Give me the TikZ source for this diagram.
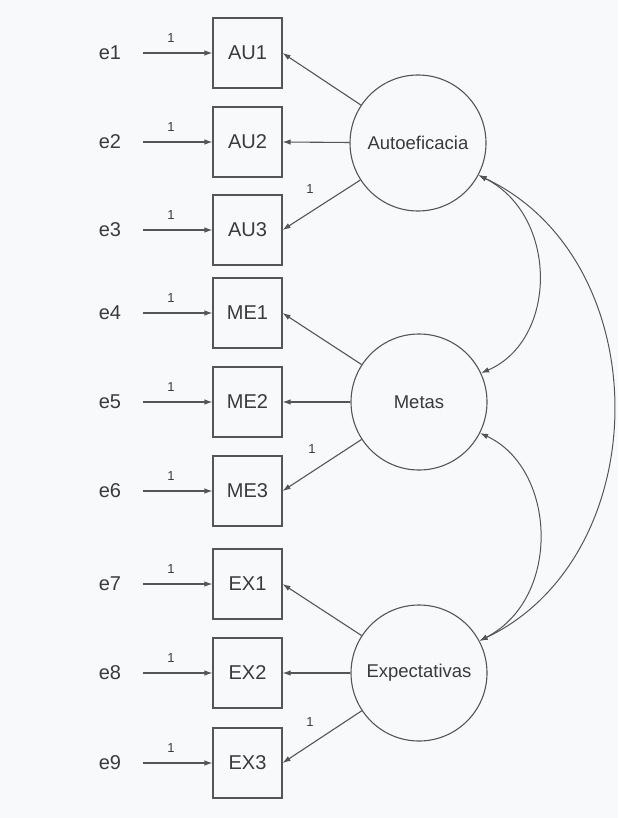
\documentclass[tikz,border=0pt]{standalone}
\usepackage{fontspec}
\setmainfont{Liberation Sans}
\usetikzlibrary{arrows.meta,calc}
\definecolor{ln}{HTML}{555555}
\definecolor{tx}{HTML}{3A3A3A}
\definecolor{bg}{HTML}{F8F9FB}
\begin{document}
\begin{tikzpicture}[x=1pt,y=-1pt,
 obs/.style={draw=ln, line width=1.1pt, minimum width=69pt, minimum height=70pt, inner sep=0pt, font=\fontsize{20}{20}\selectfont, text=tx},
 lat/.style={draw=ln, line width=1.1pt, circle, minimum size=136pt, inner sep=0pt, font=\fontsize{18.5}{18.5}\selectfont, text=tx},
 err/.style={minimum width=66pt, inner sep=0pt, font=\fontsize{20}{20}\selectfont, text=tx},
 one/.style={font=\fontsize{13}{13}\selectfont, text=tx, inner sep=0pt},
 arr/.style={draw=ln, line width=1.1pt, -{Latex[length=8pt,width=5.5pt]}},
 cov/.style={draw=ln, line width=1pt, {Latex[length=8pt,width=5.5pt]}-{Latex[length=8pt,width=5.5pt]}}
]
\fill[bg] (0,0) rectangle (618,818);
\useasboundingbox (0,0) rectangle (618,818);

\foreach \n/\t/\y in {1/AU1/53, 2/AU2/142, 3/AU3/230, 4/ME1/313, 5/ME2/402, 6/ME3/491, 7/EX1/584, 8/EX2/673, 9/EX3/763} {
  \node[obs] (o\n) at (247.5,\y) {\t};
  \node[err] (e\n) at (110,\y) {e\n};
  \draw[arr] (e\n) -- node[one,pos=0.4,yshift=15pt] (w\n) {1} (o\n);
}

\node[lat] (aut) at (418,143) {Autoeficacia};
\node[lat] (met) at (419,402) {Metas};
\node[lat] (exq) at (419,673) {Expectativas};

\draw[arr] (aut) -- (o1.east);
\draw[arr] (aut) -- (o2.east);
\draw[arr] (aut) -- (o3.east);
\draw[arr] (met) -- (o4.east);
\draw[arr] (met) -- (o5.east);
\draw[arr] (met) -- (o6.east);
\draw[arr] (exq) -- (o7.east);
\draw[arr] (exq) -- (o8.east);
\draw[arr] (exq) -- (o9.east);

\node[one] (l3) at ($(aut)+(-108,46)$) {1};
\node[one] (l6) at ($(met)+(-107,47)$) {1};
\node[one] (l9) at ($(exq)+(-109,49)$) {1};

\draw[cov] (aut.-28) .. controls +(80,40) and +(77,-33) .. (met.25);
\draw[cov] (aut.-28) .. controls +(180,85) and +(178,-85) .. (exq.28);
\draw[cov] (met.-27) .. controls +(76,35) and +(83,-43) .. (exq.28);
\end{tikzpicture}
\end{document}
